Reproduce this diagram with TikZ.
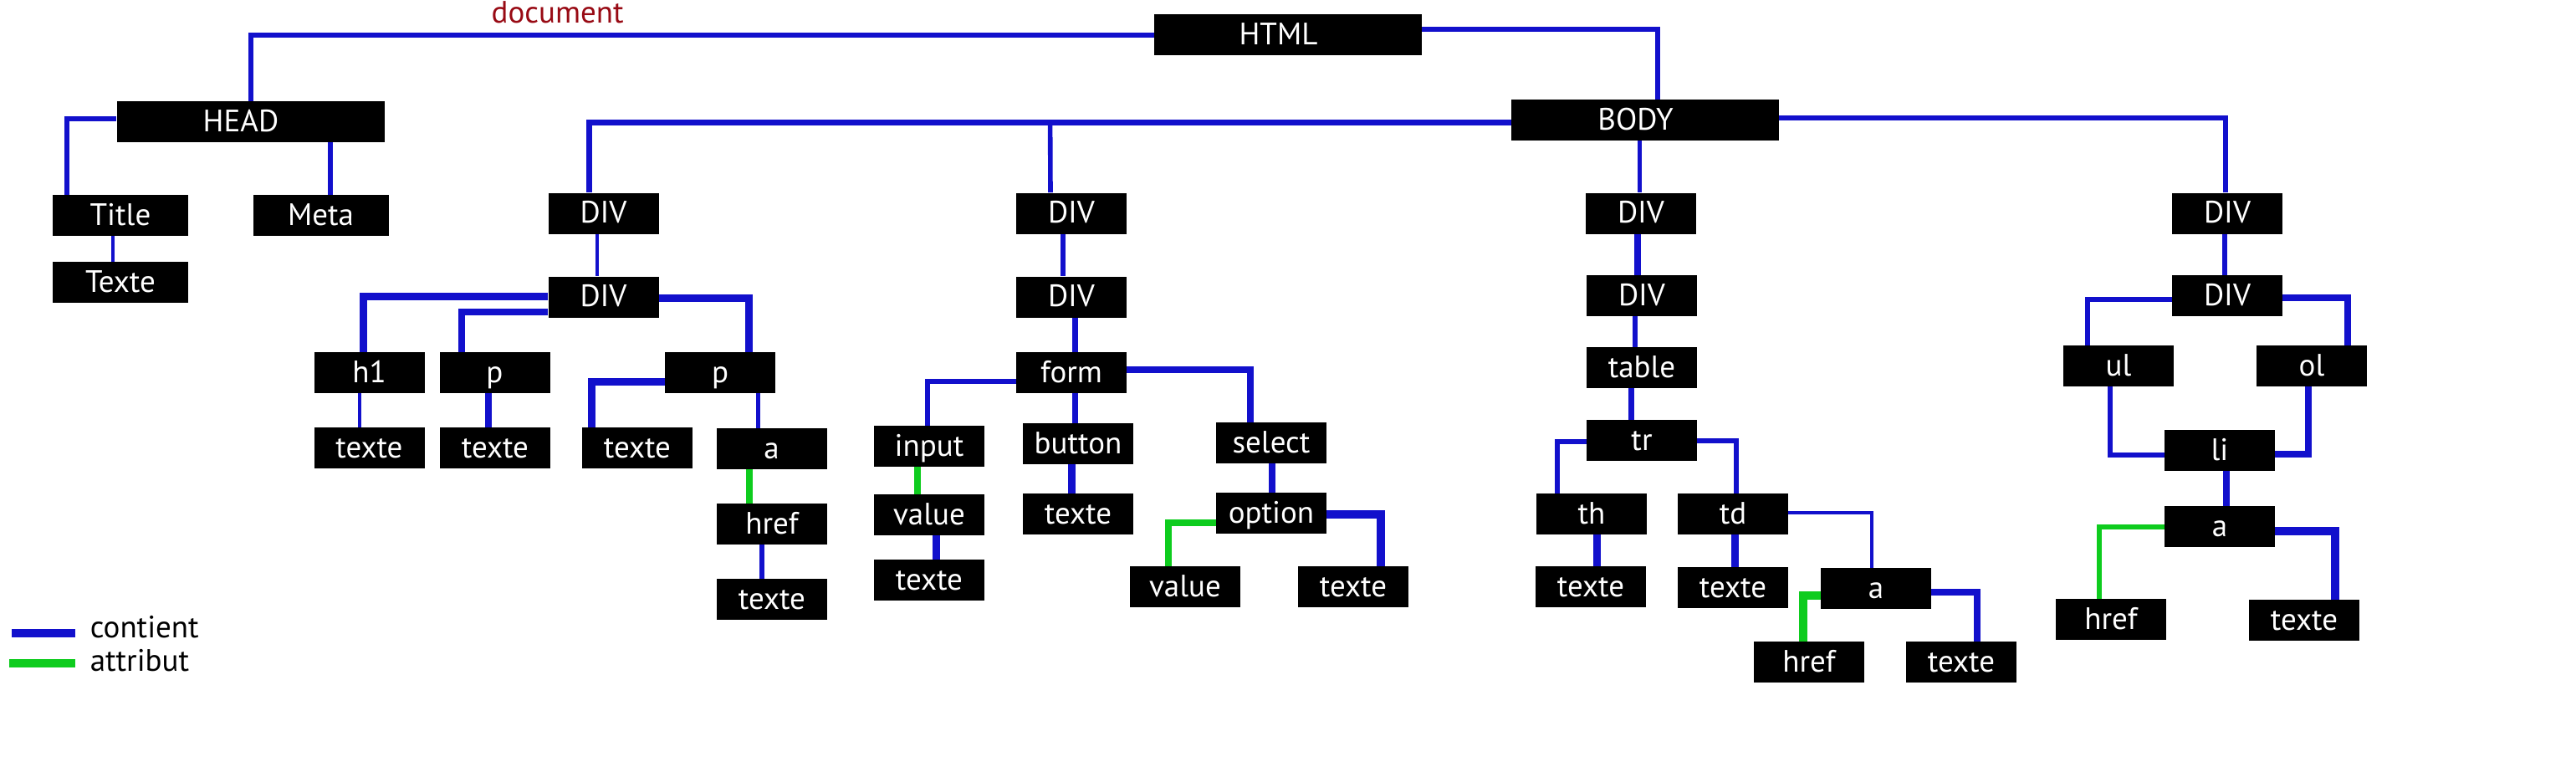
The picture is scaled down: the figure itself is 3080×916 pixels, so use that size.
\documentclass[tikz,border=0pt]{standalone}
\usepackage{fontspec}
\setmainfont{PT Sans}
\usepackage{xcolor}
\usetikzlibrary{positioning, calc}
\definecolor{contblue}{RGB}{18,16,204}
\definecolor{attrgreen}{RGB}{14,204,30}
\definecolor{docred}{RGB}{152,10,20}
\tikzset{
  tagbox/.style={
    rectangle, fill=black, text=white,
    minimum width=66pt, minimum height=24.5pt, inner sep=0pt,
    text height=11.5pt, text depth=0pt,
    font=\fontsize{18.5}{22}\selectfont
  },
  tagmid/.style={tagbox, minimum width=81pt},
  tagwide/.style={tagbox, minimum width=160pt,
    execute at end node={\hspace*{11.5pt}}},
  contline/.style={contblue, line width=3pt},
  attrline/.style={attrgreen, line width=3.6pt},
  fatline/.style={line width=4.5pt},
  slimline/.style={line width=1.8pt},
  swatch/.style={rectangle, inner sep=0pt, minimum width=38pt, minimum height=5pt},
  legtext/.style={inner sep=0pt, font=\fontsize{18.5}{22}\selectfont},
  doclabel/.style={inner sep=0pt, text=docred, font=\fontsize{18.5}{22}\selectfont},
}

\begin{document}
\begin{tikzpicture}[x=0.5pt, y=-0.5pt]
  \useasboundingbox (0,0) rectangle (3080,916);

  \node[tagwide] (html) at (1540,41.5) {HTML};
  \node[tagwide] (head) at (299.5,145.5) {HEAD};
  \node[tagwide] (body) at (1967,143.5) {BODY};
  \node[tagmid] (title)    at (144,257.5)   {Title};
  \node[tagmid] (meta)     at (383.5,257.5) {Meta};
  \node[tagmid] (titletxt) at (144,337.5)   {Texte};

  \node[tagbox] (divA1)    at (721.5,255)   {DIV};
  \node[tagbox] (divA2)    at (721.5,355)   {DIV};
  \node[tagbox] (hone)     at (441.5,445.5) {h1};
  \node[tagbox] (pA)       at (591.5,445.5) {p};
  \node[tagbox] (pB)       at (861,445.5)   {p};
  \node[tagbox] (honetxt)  at (441.5,535.5) {texte};
  \node[tagbox] (pAtxt)    at (592,535.5)   {texte};
  \node[tagbox] (pBtxt)    at (762,535.5)   {texte};
  \node[tagbox] (aB)       at (922.5,536.5) {a};
  \node[tagbox] (hrefB)    at (923,626.5)   {href};
  \node[tagbox] (hrefBtxt) at (923,716.5)   {texte};

  \node[tagbox] (divB1)    at (1281,255)    {DIV};
  \node[tagbox] (divB2)    at (1281,355)    {DIV};
  \node[tagbox] (form)     at (1281,445.5)  {form};
  \node[tagbox] (input)    at (1111,533.5)  {input};
  \node[tagbox] (button)   at (1289,530.5)  {button};
  \node[tagbox] (select)   at (1520,529.5)  {select};
  \node[tagbox] (inval)    at (1111,615.5)  {value};
  \node[tagbox] (buttxt)   at (1289,614.5)  {texte};
  \node[tagbox] (option)   at (1520,613.5)  {option};
  \node[tagbox] (invaltxt) at (1111,693.5)  {texte};
  \node[tagbox] (optval)   at (1417,701.5)  {value};
  \node[tagbox] (opttxt)   at (1618,701.5)  {texte};

  \node[tagbox] (divC1)    at (1962,255)    {DIV};
  \node[tagbox] (divC2)    at (1963,353.5)  {DIV};
  \node[tagbox] (table)    at (1963,439.5)  {table};
  \node[tagbox] (tr)       at (1963,526.5)  {tr};
  \node[tagbox] (th)       at (1903,614.5)  {th};
  \node[tagbox] (td)       at (2072,614.5)  {td};
  \node[tagbox] (thtxt)    at (1902,701.5)  {texte};
  \node[tagbox] (tdtxt)    at (2072,702.5)  {texte};
  \node[tagbox] (aC)       at (2243,703.5)  {a};
  \node[tagbox] (hrefC)    at (2163,791.5)  {href};
  \node[tagbox] (aCtxt)    at (2345,791.5)  {texte};

  \node[tagbox] (divD1)    at (2663,255)    {DIV};
  \node[tagbox] (divD2)    at (2663,353.5)  {DIV};
  \node[tagbox] (ul)       at (2533,437.5)  {ul};
  \node[tagbox] (ol)       at (2764,437.5)  {ol};
  \node[tagbox] (li)       at (2654,538.5)  {li};
  \node[tagbox] (aD)       at (2654,629.5)  {a};
  \node[tagbox] (hrefD)    at (2524,740.5)  {href};
  \node[tagbox] (aDtxt)    at (2755,741.5)  {texte};

  % legend
  \node[swatch, fill=contblue] (kcont) at (52,757) {};
  \node[legtext, anchor=base west] (lcont) at ($(kcont.east)+(17,5)$) {contient};
  \node[swatch, fill=attrgreen, minimum width=39.5pt] (kattr) at (50.5,793) {};
  \node[legtext, anchor=base west] (lattr) at ($(kattr.east)+(17,9)$) {attribut};

  % contient
  \draw[contline] (html) -| (head)
    node[doclabel, above=5.5pt, pos=0.33] (doc) {document};
  \draw[contline, line width=2.8pt] ($(html.east)+(0,-6.5)$) -| ($(body.north)+(15,0)$);
  \draw[contline, line width=3.4pt] ($(head.west)+(0,-3.5)$) -| ($(title.north)+(-64,0)$);
  \draw[contline, line width=2.8pt] ($(head.south)+(95.5,0)$) -- ($(meta.north)+(11.5,0)$);
  \draw[contline, slimline] ($(title.south)+(-9,0)$) -- ($(titletxt.north)+(-9,0)$);

  \draw[contline, line width=3.5pt] ($(body.west)+(0,2.5)$) -| ($(divA1.north)+(-17.5,0)$);
  \draw[contline, line width=2.8pt] ($(body.west)+(-551,2.5)$) -- ($(divB1.north)+(-25,0)$);
  \draw[contline, line width=2.5pt] ($(body.south)+(-7,0)$) -- ($(divC1.north)+(-2,0)$);
  \draw[contline, line width=3.4pt] ($(body.east)+(0,-2.5)$) -| ($(divD1.north)+(-2,0)$);

  \draw[contline, slimline] ($(divA1.south)+(-7.5,0)$) -- ($(divA2.north)+(-7.5,0)$);
  \draw[contline, fatline] ($(divA2.west)+(0,-1)$) -| ($(hone.north)+(-7.5,0)$);
  \draw[contline, line width=3.6pt] ($(divA2.west)+(0,18)$) -| ($(pA.north)+(-39.5,0)$);
  \draw[contline, fatline] ($(divA2.east)+(0,1)$) -| ($(pB.north)+(34,0)$);
  \draw[contline, slimline] ($(hone.south)+(-11.5,0)$) -- ($(honetxt.north)+(-11.5,0)$);
  \draw[contline, line width=3.8pt] ($(pA.south)+(-7.5,0)$) -- ($(pAtxt.north)+(-8,0)$);
  \draw[contline, fatline] ($(pB.west)+(0,10.5)$) -| ($(pBtxt.north)+(-55,0)$);
  \draw[contline, line width=2.5pt] ($(pB.south)+(45,0)$) -- ($(aB.north)+(-16.5,0)$);
  \draw[contline, line width=3.2pt] ($(hrefB.south)+(-12,0)$) -- ($(hrefBtxt.north)+(-12,0)$);

  \draw[contline] ($(divB1.south)+(-10,0)$) -- ($(divB2.north)+(-10,0)$);
  \draw[contline, line width=3.5pt] ($(divB2.south)+(4,0)$) -- ($(form.north)+(4,0)$);
  \draw[contline, line width=3.4pt] ($(form.west)+(0,10.5)$) -| ($(input.north)+(-2,0)$);
  \draw[contline, line width=3.5pt] ($(form.south)+(4,0)$) -- ($(button.north)+(-4,0)$);
  \draw[contline, line width=3.6pt] ($(form.east)+(0,-3.5)$) -| ($(select.north)+(-25,0)$);
  \draw[contline, fatline] ($(inval.south)+(8,0)$) -- ($(invaltxt.north)+(8,0)$);
  \draw[contline, fatline] ($(button.south)+(-8,0)$) -- ($(buttxt.north)+(-8,0)$);
  \draw[contline, line width=4.2pt] ($(select.south)+(1,0)$) -- ($(option.north)+(1,0)$);
  \draw[contline, line width=5pt] ($(option.east)+(0,1.5)$) -| ($(opttxt.north)+(33,0)$);

  \draw[contline, line width=3.8pt] ($(divC1.south)+(-4,0)$) -- ($(divC2.north)+(-5,0)$);
  \draw[contline, line width=3.2pt] ($(divC2.south)+(-8,0)$) -- ($(table.north)+(-8,0)$);
  \draw[contline, line width=3.5pt] ($(table.south)+(-13,0)$) -- ($(tr.north)+(-13,0)$);
  \draw[contline, line width=2.6pt] ($(tr.west)+(0,1.5)$) -| ($(th.north)+(-41,0)$);
  \draw[contline, line width=3.4pt] ($(tr.east)+(0,0.5)$) -| ($(td.north)+(4,0)$);
  \draw[contline, fatline] ($(th.south)+(6,0)$) -- ($(thtxt.north)+(7,0)$);
  \draw[contline, fatline] ($(td.south)+(2,0)$) -- ($(tdtxt.north)+(2,0)$);
  \draw[contline, line width=2.2pt] ($(td.east)+(0,-1.5)$) -| ($(aC.north)+(-5,0)$);
  \draw[contline, line width=4pt] ($(aC.east)+(0,4.5)$) -| ($(aCtxt.north)+(19,0)$);

  \draw[contline] ($(divD1.south)+(-3,0)$) -- ($(divD2.north)+(-3,0)$);
  \draw[contline, line width=3.2pt] ($(divD2.west)+(0,4.5)$) -| ($(ul.north)+(-37,0)$);
  \draw[contline, line width=3.6pt] ($(divD2.east)+(0,2.5)$) -| ($(ol.north)+(43,0)$);
  \draw[contline, line width=3.4pt] ($(ul.south)+(-10,0)$) |- ($(li.west)+(0,5.5)$);
  \draw[contline, line width=4.2pt] ($(ol.south)+(-4,0)$) |- ($(li.east)+(0,4.5)$);
  \draw[contline, line width=3.8pt] ($(li.south)+(8,0)$) -- ($(aD.north)+(8,0)$);
  \draw[contline, line width=4.8pt] ($(aD.east)+(0,5.5)$) -| ($(aDtxt.north)+(37,0)$);

  % attribut
  \draw[attrline, line width=3.8pt] ($(aB.south)+(-26.5,0)$) -- ($(hrefB.north)+(-27,0)$);
  \draw[attrline] ($(input.south)+(-14,0)$) -- ($(inval.north)+(-14,0)$);
  \draw[attrline, line width=4.4pt] ($(option.west)+(0,11.5)$) -| ($(optval.north)+(-20,0)$);
  \draw[attrline, line width=4.8pt] ($(aC.west)+(0,8.5)$) -| ($(hrefC.north)+(-7,0)$);
  \draw[attrline, line width=2.6pt] ($(aD.west)+(0,0.5)$) -| ($(hrefD.north)+(-14,0)$);
\end{tikzpicture}
\end{document}
